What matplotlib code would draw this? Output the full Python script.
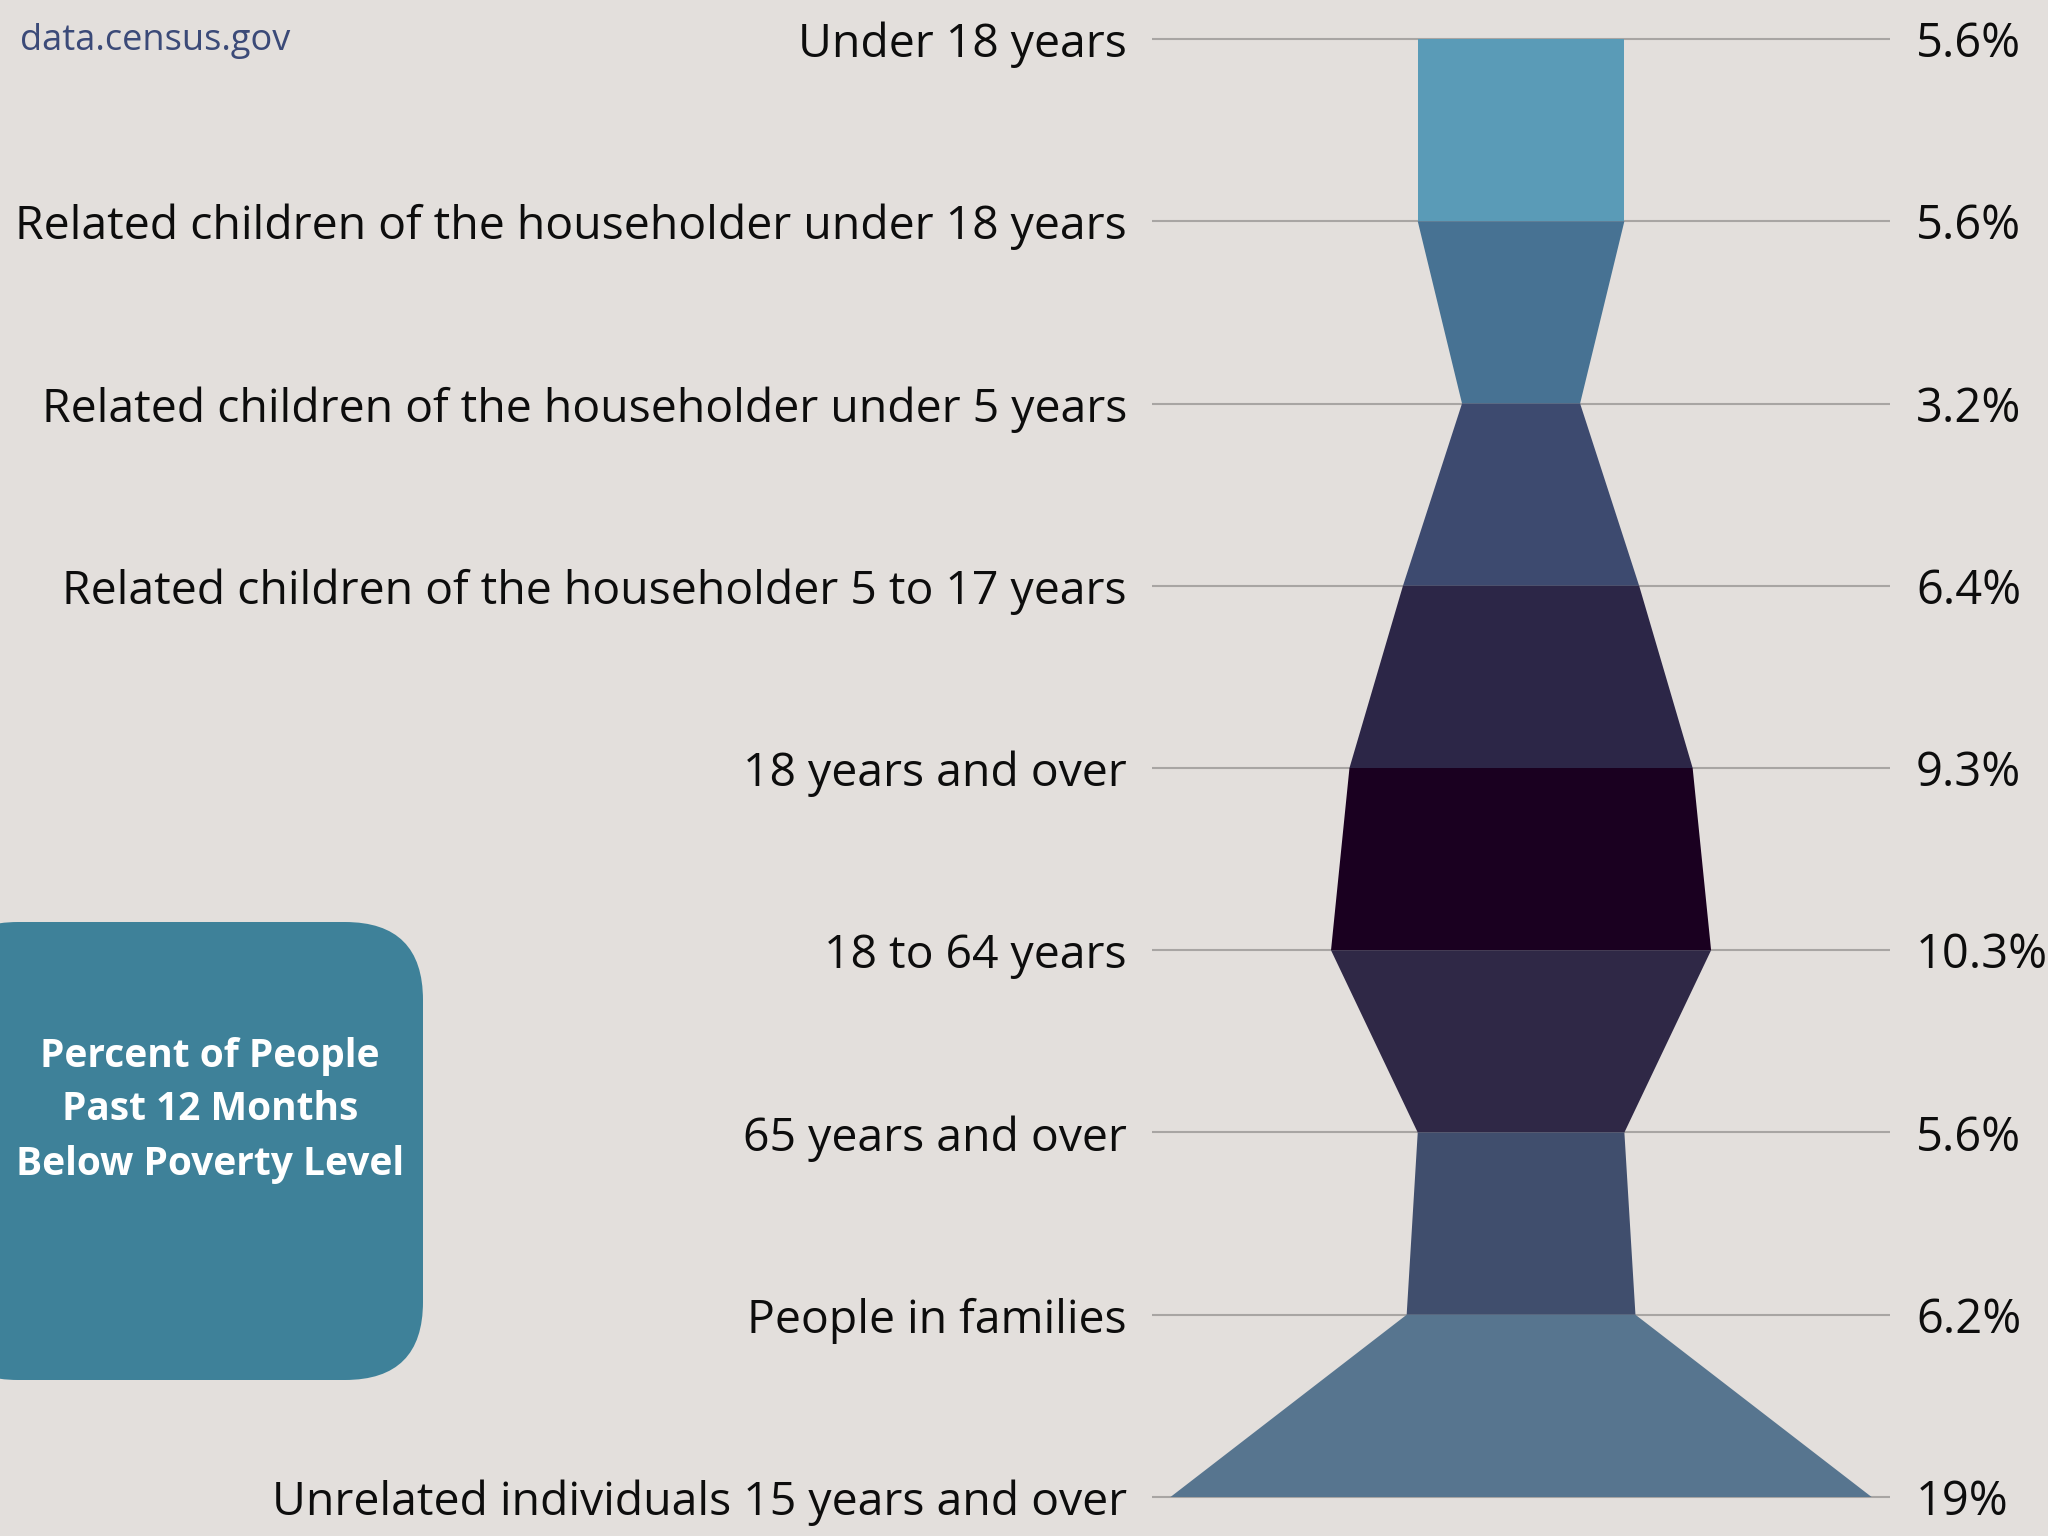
import matplotlib
matplotlib.use("Agg")
import matplotlib.pyplot as plt
from matplotlib.patches import Polygon, FancyBboxPatch

# data
categories = [
    "Under 18 years",
    "Related children of the householder under 18 years",
    "Related children of the householder under 5 years",
    "Related children of the householder 5 to 17 years",
    "18 years and over",
    "18 to 64 years",
    "65 years and over",
    "People in families",
    "Unrelated individuals 15 years and over",
]
values = [5.6, 5.6, 3.2, 6.4, 9.3, 10.3, 5.6, 6.2, 19.0]
value_labels = ["5.6%", "5.6%", "3.2%", "6.4%", "9.3%", "10.3%", "5.6%", "6.2%", "19%"]
segment_colors = ["#5a9bb7", "#477293", "#3d4a6f", "#2c2647",
                  "#1a0020", "#2f2846", "#404e6d", "#57758f"]

BG = "#e3dfdc"
FONT = ["Open Sans", "DejaVu Sans"]

fig = plt.figure(figsize=(20.48, 15.36), dpi=100, facecolor=BG)
ax = fig.add_axes([0, 0, 1, 1])
ax.set_facecolor(BG)
ax.set_xlim(-41.22, 14.28)
ax.set_ylim(8.214, -0.214)
ax.axis("off")

# guide lines
for i in range(len(values)):
    ax.plot([-10, 10], [i, i], color="#a8a5a3", lw=1.5, zorder=1,
            solid_capstyle="butt")

# funnel segments: trapezoid from row i to row i+1
for i in range(len(values) - 1):
    a, b = values[i] / 2, values[i + 1] / 2
    poly = Polygon([(-a, i), (a, i), (b, i + 1), (-b, i + 1)], closed=True,
                   facecolor=segment_colors[i], edgecolor="none", zorder=2)
    ax.add_patch(poly)

# labels: baseline a bit below the line so caps sit centred on it
for i, (cat, lab) in enumerate(zip(categories, value_labels)):
    ax.text(-10.68, i + 0.1, cat, ha="right", va="baseline", fontsize=33.4,
            family=FONT, color="#0d0d0d")
    ax.text(10.7, i + 0.1, lab, ha="left", va="baseline", fontsize=33.8,
            family=FONT, color="#0d0d0d")

# title box on the left
box = FancyBboxPatch((-0.6, 1.56), 4.83, 4.58,
                     boxstyle="round,pad=0,rounding_size=0.78",
                     transform=fig.dpi_scale_trans, facecolor="#3e8199",
                     edgecolor="none", zorder=3)
fig.patches.append(box)
fig.text(2.10 / 20.48, 4.26 / 15.36,
         "Percent of People\nPast 12 Months\nBelow Poverty Level",
         ha="center", va="center", fontsize=28, fontweight="bold",
         color="white", family=FONT, linespacing=1.5, zorder=4)

fig.text(20 / 2048, 1 - 41 / 1536, "data.census.gov", ha="left", va="center",
         fontsize=26, color="#3b4a78", family=FONT)

fig.savefig("out.png", dpi=100, facecolor=BG)
